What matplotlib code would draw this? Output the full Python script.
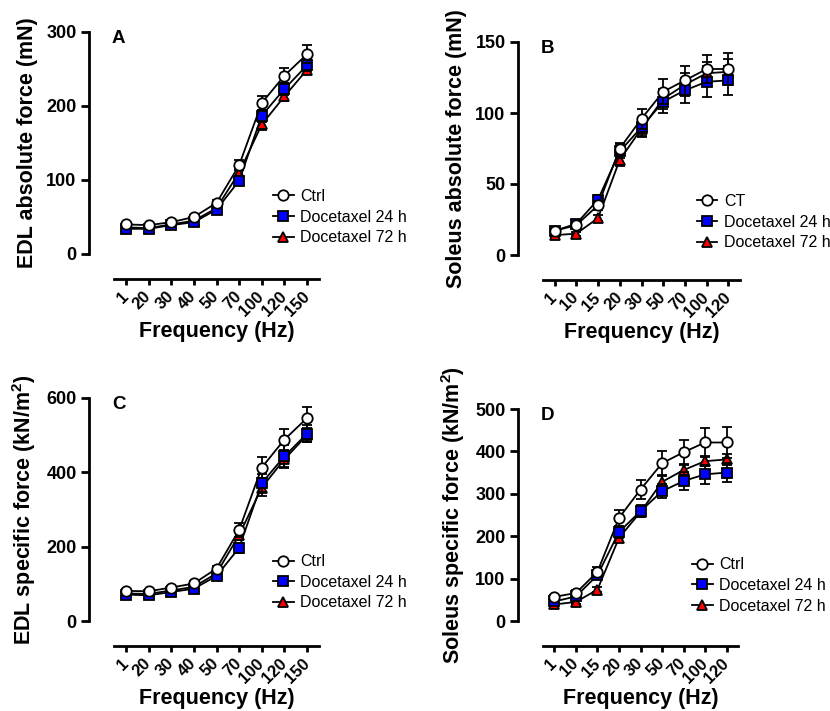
import numpy as np
import matplotlib
matplotlib.use('Agg')
import matplotlib.pyplot as plt

plt.rcParams['font.family'] = ['Liberation Sans', 'DejaVu Sans']
plt.rcParams['mathtext.fontset'] = 'custom'
plt.rcParams['mathtext.rm'] = 'Liberation Sans'
plt.rcParams['mathtext.bf'] = 'Liberation Sans:bold'

# ---- data ----
edl_freq = ['1', '20', '30', '40', '50', '70', '100', '120', '150']
sol_freq = ['1', '10', '15', '20', '30', '50', '70', '100', '120']

# A: EDL absolute force (mN)
edl_abs_ctrl = [40, 39, 43, 50, 69, 120, 204, 241, 270]
edl_abs_ctrl_se = [2, 2, 2, 3, 4, 7, 10, 10, 12]
edl_abs_24 = [34, 34, 39, 43, 60, 99, 187, 223, 255]
edl_abs_24_se = [2, 2, 2, 3, 4, 6, 8, 8, 8]
edl_abs_72 = [36, 35, 40, 45, 62, 110, 175, 213, 249]
edl_abs_72_se = [2, 2, 2, 3, 4, 6, 8, 6, 6]

# B: Soleus absolute force (mN)
sol_abs_ctrl = [17, 21, 35, 75, 96, 115, 123, 131, 131]
sol_abs_ctrl_se = [1.5, 2, 3, 4, 7, 9, 10, 10, 11]
sol_abs_24 = [17, 22, 39, 73, 90, 108, 116, 122, 123]
sol_abs_24_se = [1.5, 2, 3, 5, 6, 8, 9, 11, 10]
sol_abs_72 = [14, 15, 26, 67, 89, 110, 120, 128, 129]
sol_abs_72_se = [1.5, 1.5, 2, 4, 6, 7, 8, 8, 9]

# C: EDL specific force (kN/m2)
edl_spec_ctrl = [81, 80, 90, 101, 141, 245, 413, 488, 546]
edl_spec_ctrl_se = [4, 4, 5, 6, 8, 18, 28, 29, 30]
edl_spec_24 = [71, 69, 78, 87, 121, 197, 371, 443, 504]
edl_spec_24_se = [4, 4, 5, 6, 8, 14, 25, 30, 23]
edl_spec_72 = [74, 73, 82, 92, 128, 231, 359, 435, 500]
edl_spec_72_se = [4, 4, 5, 6, 8, 14, 22, 20, 18]

# D: Soleus specific force (kN/m2)
sol_spec_ctrl = [57, 66, 116, 243, 310, 372, 398, 421, 421]
sol_spec_ctrl_se = [5, 6, 12, 18, 22, 28, 30, 35, 36]
sol_spec_24 = [46, 58, 108, 210, 259, 306, 330, 346, 350]
sol_spec_24_se = [4, 5, 9, 15, 14, 16, 21, 23, 22]
sol_spec_72 = [39, 45, 74, 196, 257, 328, 356, 377, 381]
sol_spec_72_se = [4, 4, 6, 10, 12, 14, 14, 12, 14]

W, H = 830, 711
fig = plt.figure(figsize=(W / 100, H / 100), dpi=100)


def make_axes(x0, x1, ytop, ybot):
    return fig.add_axes([x0 / W, 1 - ybot / H, (x1 - x0) / W, (ybot - ytop) / H])


def panel(ax, labels, series, ymax, ystep, ylabel, letter, leg_names, leg_xy):
    x = np.arange(len(labels))
    styles = [
        dict(marker='^', mfc='red', ms=7, z=3),
        dict(marker='s', mfc='blue', ms=7, z=4),
        dict(marker='o', mfc='white', ms=7.5, z=5),
    ]
    handles = []
    for (vals, se), st in zip(series[::-1], styles):
        h = ax.errorbar(x, vals, yerr=se, fmt='-', color='black', lw=1.3,
                        marker=st['marker'], mfc=st['mfc'], mec='black',
                        mew=1.3, ms=st['ms'], ecolor='black', elinewidth=1.3,
                        capsize=3.5, capthick=1.3, zorder=st['z'], clip_on=False)
        for a in h.lines[1] + h.lines[2]:
            a.set_clip_on(False)
        handles.append(h.lines[0])
    handles = handles[::-1]

    ax.set_xlim(-0.53, len(labels) - 1 + 0.53)
    ax.set_ylim(0, ymax)
    ax.spines['top'].set_visible(False)
    ax.spines['right'].set_visible(False)
    ax.spines['left'].set_position(('outward', 18))
    ax.spines['left'].set_bounds(0, ymax)
    ax.spines['bottom'].set_position(('outward', 18))
    for s in ('left', 'bottom'):
        ax.spines[s].set_linewidth(2)
    ax.set_yticks(np.arange(0, ymax + 1, ystep))
    ax.set_xticks(x)
    ax.set_xticklabels(labels, rotation=45, ha='right', va='center',
                       rotation_mode='anchor', fontweight='bold', fontsize=12)
    ax.tick_params(axis='both', width=2, direction='out')
    ax.tick_params(axis='y', length=6, labelsize=13, pad=3)
    ax.tick_params(axis='x', length=4, pad=7)
    for t in ax.get_yticklabels():
        t.set_fontweight('bold')
    ax.set_ylabel(ylabel, fontsize=15.5, fontweight='bold', labelpad=6)
    ax.set_xlabel('Frequency (Hz)', fontsize=15.5, fontweight='bold', labelpad=1)
    ax.text(-0.01, 1.01, letter, transform=ax.transAxes, ha='left', va='top',
            fontsize=13.5, fontweight='bold')
    ax.legend(handles, leg_names, loc='upper left', bbox_to_anchor=leg_xy,
              frameon=False, fontsize=11.5, handlelength=1.3, handletextpad=0.4,
              labelspacing=0.35, borderaxespad=0, borderpad=0)


axA = make_axes(114, 319, 32, 254)
panel(axA, edl_freq,
      [(edl_abs_ctrl, edl_abs_ctrl_se), (edl_abs_24, edl_abs_24_se), (edl_abs_72, edl_abs_72_se)],
      300, 100, 'EDL absolute force (mN)', 'A',
      ['Ctrl', 'Docetaxel 24 h', 'Docetaxel 72 h'], (0.776, 0.293))

axB = make_axes(543, 740, 42, 255)
panel(axB, sol_freq,
      [(sol_abs_ctrl, sol_abs_ctrl_se), (sol_abs_24, sol_abs_24_se), (sol_abs_72, sol_abs_72_se)],
      150, 50, 'Soleus absolute force (mN)', 'B',
      ['CT', 'Docetaxel 24 h', 'Docetaxel 72 h'], (0.78, 0.286))

axC = make_axes(114, 319, 398, 621)
panel(axC, edl_freq,
      [(edl_spec_ctrl, edl_spec_ctrl_se), (edl_spec_24, edl_spec_24_se), (edl_spec_72, edl_spec_72_se)],
      600, 200, r'EDL specific force (kN/m$^{\mathbf{2}}$)', 'C',
      ['Ctrl', 'Docetaxel 24 h', 'Docetaxel 72 h'], (0.776, 0.30))

axD = make_axes(543, 738, 409, 621)
panel(axD, sol_freq,
      [(sol_spec_ctrl, sol_spec_ctrl_se), (sol_spec_24, sol_spec_24_se), (sol_spec_72, sol_spec_72_se)],
      500, 100, r'Soleus specific force (kN/m$^{\mathbf{2}}$)', 'D',
      ['Ctrl', 'Docetaxel 24 h', 'Docetaxel 72 h'], (0.764, 0.30))

plt.savefig('out.png', dpi=100)
